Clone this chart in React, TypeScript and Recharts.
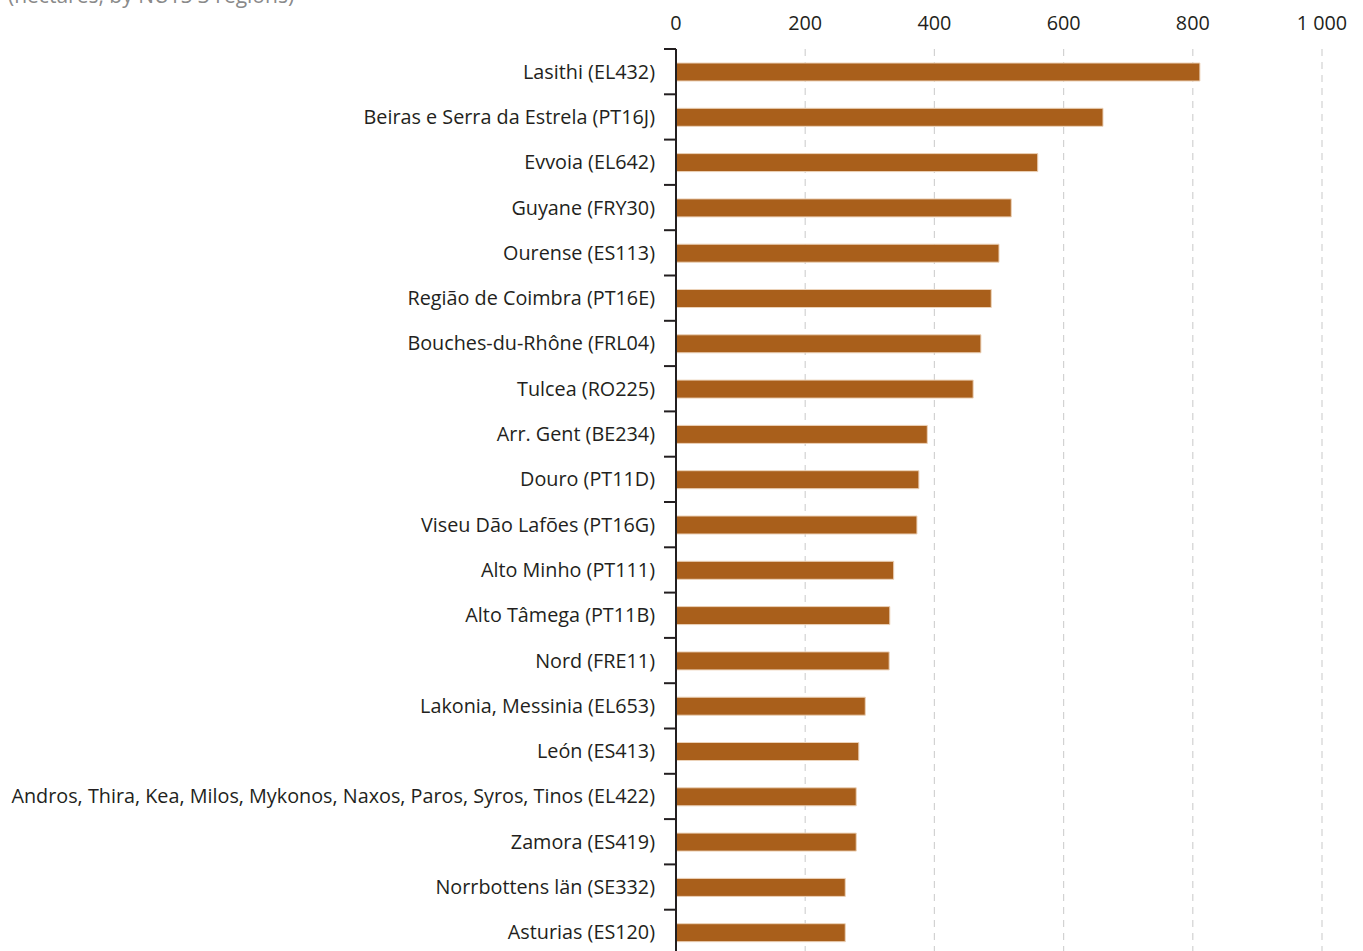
import { Bar, BarChart, CartesianGrid, XAxis, YAxis } from "recharts";

const regions = [
  "Lasithi (EL432)",
  "Beiras e Serra da Estrela (PT16J)",
  "Evvoia (EL642)",
  "Guyane (FRY30)",
  "Ourense (ES113)",
  "Região de Coimbra (PT16E)",
  "Bouches-du-Rhône (FRL04)",
  "Tulcea (RO225)",
  "Arr. Gent (BE234)",
  "Douro (PT11D)",
  "Viseu Dão Lafões (PT16G)",
  "Alto Minho (PT111)",
  "Alto Tâmega (PT11B)",
  "Nord (FRE11)",
  "Lakonia, Messinia (EL653)",
  "León (ES413)",
  "Andros, Thira, Kea, Milos, Mykonos, Naxos, Paros, Syros, Tinos (EL422)",
  "Zamora (ES419)",
  "Norrbottens län (SE332)",
  "Asturias (ES120)",
];

const hectares = [
  811, 661, 560, 519, 500, 488, 472, 460, 389, 376, 373, 337, 331, 330, 293,
  283, 279, 279, 262, 262,
];

const xTicks = [0, 200, 400, 600, 800, 1000];

const FONT = "'Open Sans', 'Noto Sans', sans-serif";
const CHART_W = 1363;
const CHART_H = 980;
const X_AXIS_H = 30;
const MARGIN = { top: 19, right: 41, bottom: 25, left: 0 };
const HALF_BAND =
  (CHART_H - MARGIN.top - X_AXIS_H - MARGIN.bottom) / regions.length / 2;

const data = regions.map((name, i) => ({ name, value: hectares[i] }));

function RegionTick(props: any) {
  const { x, y, payload, index } = props;
  const last = index === regions.length - 1;
  return (
    <g>
      <line x1={x + 9} x2={x + 21} y1={y - HALF_BAND} y2={y - HALF_BAND} stroke="#231f20" strokeWidth={2} />
      {last && (
        <line x1={x + 9} x2={x + 21} y1={y + HALF_BAND} y2={y + HALF_BAND} stroke="#231f20" strokeWidth={2} />
      )}
      <text x={x} y={y} dy={7} textAnchor="end" fill="#231f20" fontSize={19.8} fontFamily={FONT}>
        {payload.value}
      </text>
    </g>
  );
}

export default function App() {
  return (
    <div
      style={{
        position: "absolute",
        left: 0,
        top: 0,
        width: CHART_W,
        height: 951,
        overflow: "hidden",
        background: "#fff",
      }}
    >
      <div
        style={{
          position: "absolute",
          left: 8,
          top: -19,
          color: "#8a8a8a",
          fontSize: 21,
          fontFamily: FONT,
          whiteSpace: "nowrap",
        }}
      >
        (hectares, by NUTS 3 regions)
      </div>
      <BarChart
        width={CHART_W}
        height={CHART_H}
        data={data}
        layout="vertical"
        margin={MARGIN}
        barCategoryGap={0}
      >
        <CartesianGrid horizontal={false} stroke="#d2d2d2" strokeWidth={1.2} strokeDasharray="7 6" />
        <XAxis
          type="number"
          orientation="top"
          height={X_AXIS_H}
          domain={[0, 1000]}
          ticks={xTicks}
          axisLine={false}
          tickLine={false}
          tickMargin={13}
          tickFormatter={(v: number) => (v >= 1000 ? v.toLocaleString("en").replace(",", " ") : String(v))}
          tick={{ fill: "#231f20", fontSize: 19.8, fontFamily: FONT }}
          interval={0}
        />
        <YAxis
          type="category"
          dataKey="name"
          width={676}
          tickSize={12}
          tickMargin={9}
          tickLine={false}
          axisLine={{ stroke: "#231f20", strokeWidth: 2 }}
          tick={<RegionTick />}
          interval={0}
        />
        <Bar
          dataKey="value"
          fill="#a95f1b"
          stroke="#ecd2b8"
          strokeWidth={1}
          barSize={18}
          isAnimationActive={false}
        />
      </BarChart>
    </div>
  );
}
